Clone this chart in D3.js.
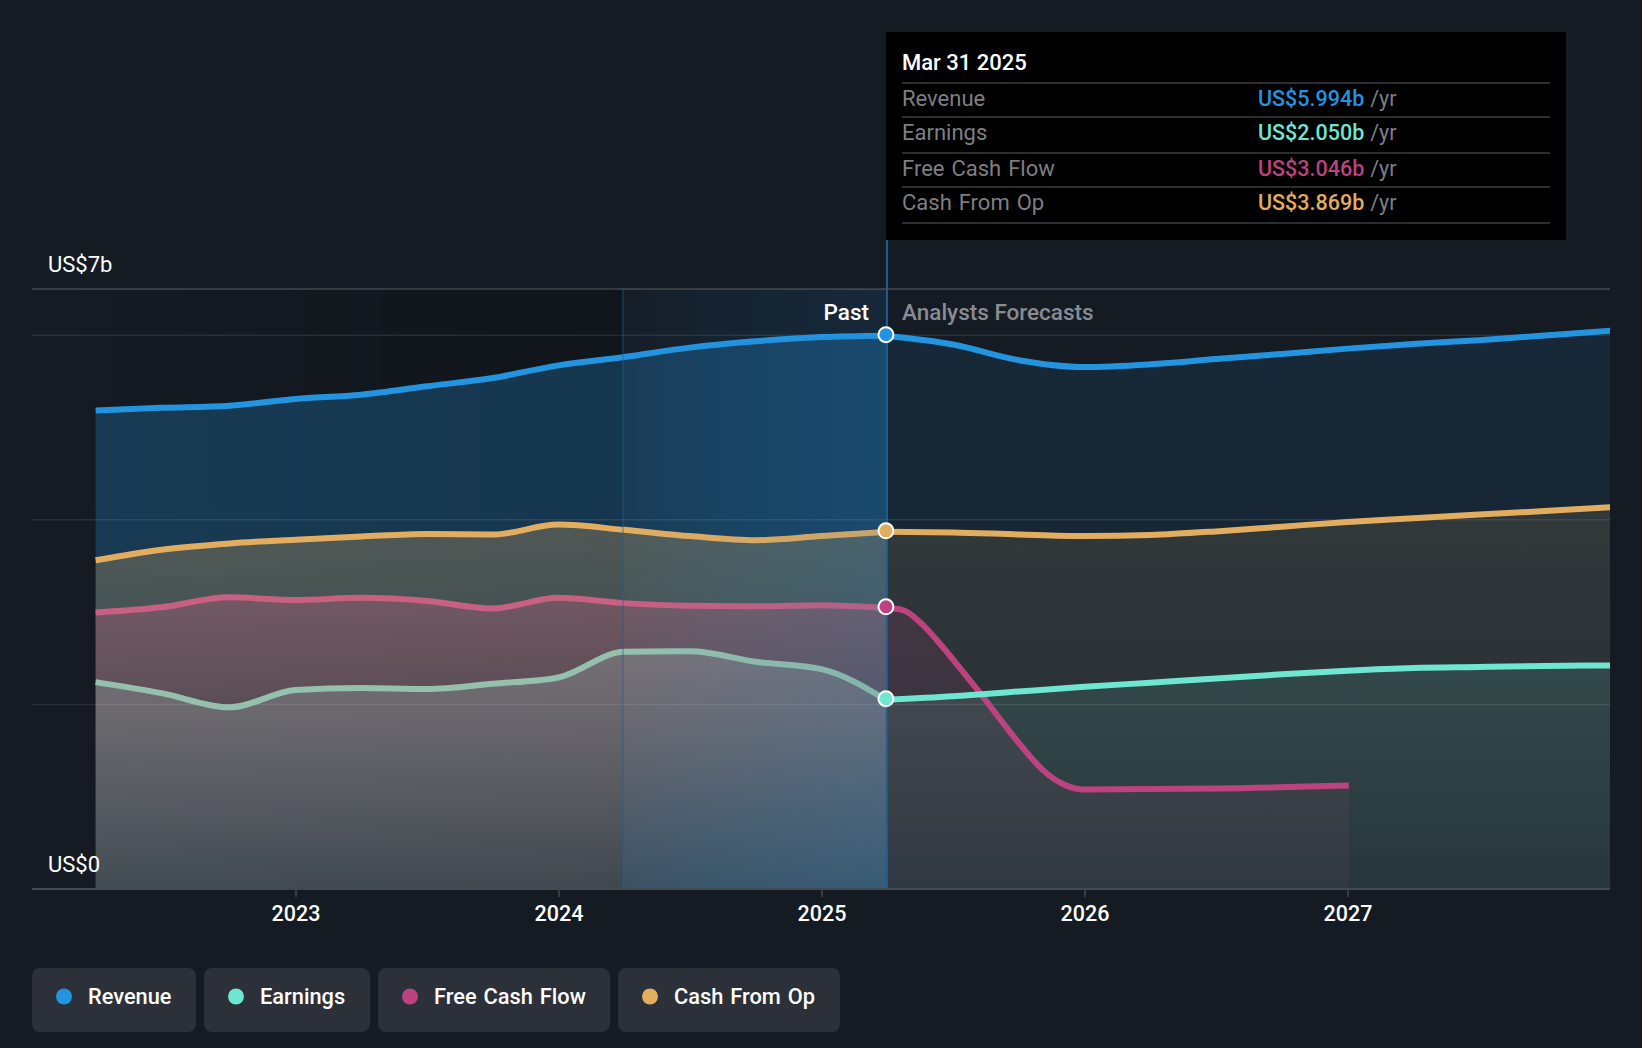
<!DOCTYPE html>
<html><head><meta charset="utf-8">
<script src="https://cdn.jsdelivr.net/npm/d3@7/dist/d3.min.js"></script>
<style>
html,body{margin:0;padding:0;background:#151b23;}
svg{display:block;font-family:Roboto,sans-serif;}
</style></head><body>
<svg id="c" width="1642" height="1048"></svg>
<script>
// ---- data (US$ billions, x in decimal years) ----
const names = ["Revenue","Earnings","Free Cash Flow","Cash From Op"];
const colors = ["#2394e0","#6fe6d0","#bc437f","#e3ad5f"];
const pastLineColors = ["#2394e0","#95c0ae","#c76083","#e3ad5f"];
const tipValues = ["US$5.994b","US$2.050b","US$3.046b","US$3.869b"];
const tipDate = "Mar 31 2025";
const yearTicks = [2023,2024,2025,2026,2027];

const pastYears = [2022.24,2022.49,2022.75,2023,2023.25,2023.5,2023.75,2024,2024.25,2024.5,2024.75,2025,2025.245];
const revenuePast = [5.185,5.213,5.236,5.309,5.355,5.446,5.536,5.673,5.763,5.865,5.933,5.979,5.994];
const earningsPast = [2.241,2.122,1.968,2.156,2.178,2.167,2.224,2.292,2.570,2.575,2.462,2.382,2.050];
const fcfPast = [2.995,3.052,3.160,3.131,3.154,3.120,3.040,3.154,3.097,3.069,3.063,3.075,3.046];
const cfoPast = [3.562,3.676,3.744,3.784,3.818,3.846,3.840,3.948,3.891,3.823,3.778,3.823,3.869];

const foreYears = [2025.245,2025.5,2025.75,2026,2026.25,2026.5,2026.75,2027,2027.25,2027.5,2027.75,2028];
const revenueFore = [5.994,5.899,5.729,5.655,5.684,5.741,5.797,5.854,5.905,5.945,5.996,6.047];
const earningsFore = [2.050,2.087,2.139,2.190,2.235,2.280,2.326,2.365,2.394,2.405,2.416,2.422];
const cfoFore = [3.869,3.863,3.840,3.823,3.835,3.874,3.925,3.976,4.016,4.056,4.095,4.135];
const fcfForeYears = [2025.245,2025.31,2025.386,2025.46,2025.538,2025.614,2025.69,2025.766,2025.842,2025.918,2025.994,2026.5,2027.005];
const fcfFore = [3.046,3.022,2.859,2.624,2.353,2.083,1.798,1.527,1.288,1.137,1.079,1.088,1.120];

const gridValues = [2,4,6];
const axisTop = 6.5;
const bandStart = 2024.245, splitYear = 2025.245;

// ---- scales ----
const x = d3.scaleLinear().domain([2023,2027]).range([295.5,1347.5]);
const y = d3.scaleLinear().domain([0,axisTop]).range([889,289]);
const yMarker = d3.scaleLinear().domain([0,axisTop]).range([888,288]);
const left = 32, right = 1610;

const svg = d3.select("#c");
svg.append("rect").attr("width",1642).attr("height",1048).attr("fill","#151b23");
const defs = svg.append("defs");

function vGrad(id,color,stops){
  const g = defs.append("linearGradient").attr("id",id).attr("gradientUnits","userSpaceOnUse")
    .attr("x1",0).attr("x2",0).attr("y1",y(axisTop)).attr("y2",y(0));
  stops.forEach(s=>g.append("stop").attr("offset",s[0]).attr("stop-color",color).attr("stop-opacity",s[1]));
}
function hGrad(id,x1,x2,stops){
  const g = defs.append("linearGradient").attr("id",id).attr("gradientUnits","userSpaceOnUse")
    .attr("x1",x1).attr("x2",x2).attr("y1",0).attr("y2",0);
  stops.forEach(s=>g.append("stop").attr("offset",s[0]).attr("stop-color",s[1]).attr("stop-opacity",s[2]));
}
defs.append("clipPath").attr("id","plot").append("rect")
  .attr("x",left).attr("y",y(axisTop)).attr("width",right-left).attr("height",y(0)-y(axisTop));

const blue = "#1a6ba8";
hGrad("shade",left,x(bandStart),[[0,"#000",0],[1,"#000",0.22]]);
hGrad("bandUnder",x(bandStart),x(splitYear)+1,[[0,blue,0.03],[0.35,blue,0.10],[1,blue,0.17]]);
hGrad("bandOver",x(bandStart),x(splitYear)+1,[[0,blue,0],[1,blue,0.14]]);
vGrad("bandDeep",blue,[[0.72,0],[1,0.16]]);

vGrad("pf0","#2394e0",[[0.5,0.26],[1,0.08]]);
vGrad("pf3","#e3ad5f",[[0.4,0.28],[0.65,0.19],[1,0.05]]);
vGrad("pf2","#c86482",[[0.5,0.33],[1,0.07]]);
vGrad("pf1","#c8f8ec",[[0.5,0.18],[1,0.14]]);
vGrad("ff0","#2394e0",[[0,0.11],[1,0.07]]);
vGrad("ff3","#e3ad5f",[[0.4,0.13],[1,0.06]]);
vGrad("ff2","#bc437f",[[0.4,0.15],[0.7,0.12],[1,0.06]]);
vGrad("ff1","#6fe6d0",[[0.6,0.12],[1,0.06]]);

const plot = svg.append("g").attr("clip-path","url(#plot)");

const line = d3.line().x(d=>x(d[0])).y(d=>y(d[1])).curve(d3.curveMonotoneX);
const area = d3.area().x(d=>x(d[0])).y0(y(0)).y1(d=>y(d[1])).curve(d3.curveMonotoneX);

const pastSeries = [revenuePast,earningsPast,fcfPast,cfoPast].map(v=>v.map((d,i)=>[pastYears[i],d]));
const foreSeries = [revenueFore,earningsFore,fcfFore,cfoFore].map((v,k)=>v.map((d,i)=>[k===2?fcfForeYears[i]:foreYears[i],d]));
const order = [0,3,2,1];

defs.append("clipPath").attr("id","underRevenue").append("path").attr("d",area(pastSeries[0]));

const bandRect = (fill)=>plot.append("rect").attr("x",x(bandStart)).attr("y",y(axisTop))
  .attr("width",x(splitYear)+1-x(bandStart)).attr("height",y(0)-y(axisTop)).attr("fill",fill);

// background shading of the past and the highlighted year underneath the areas
plot.append("rect").attr("x",left).attr("y",y(axisTop)).attr("width",x(bandStart)-left)
  .attr("height",y(0)-y(axisTop)).attr("fill","url(#shade)");
bandRect("url(#bandUnder)");

// areas
order.forEach(k=>plot.append("path").attr("d",area(foreSeries[k])).attr("fill",`url(#ff${k})`));
order.forEach(k=>plot.append("path").attr("d",area(pastSeries[k])).attr("fill",`url(#pf${k})`));

// grid
const gridG = svg.append("g");
gridG.selectAll("line.g").data(gridValues).join("line").attr("class","g")
  .attr("x1",left).attr("x2",right).attr("y1",d=>y(d)).attr("y2",d=>y(d))
  .attr("stroke","#ffffff").attr("stroke-opacity",0.09).attr("stroke-width",1.5);
gridG.selectAll("line.e").data([axisTop]).join("line").attr("class","e")
  .attr("x1",left).attr("x2",right).attr("y1",d=>y(d)).attr("y2",d=>y(d))
  .attr("stroke","#ffffff").attr("stroke-opacity",0.2).attr("stroke-width",1.5);

// lines
const plot2 = svg.append("g").attr("clip-path","url(#plot)");
order.forEach(k=>{
  plot2.append("path").attr("d",line(foreSeries[k])).attr("fill","none").attr("stroke",colors[k])
    .attr("stroke-width",6).attr("stroke-linecap","butt");
  plot2.append("path").attr("d",line(pastSeries[k])).attr("fill","none").attr("stroke",pastLineColors[k])
    .attr("stroke-width",6).attr("stroke-linecap","butt");
});

// highlighted year overlays
plot2.append("g").attr("clip-path","url(#underRevenue)").append("rect")
  .attr("x",x(bandStart)).attr("y",y(axisTop)).attr("width",x(splitYear)+1-x(bandStart))
  .attr("height",y(0)-y(axisTop)).attr("fill","url(#bandOver)");
plot2.append("rect").attr("x",x(bandStart)).attr("y",y(axisTop)).attr("width",x(splitYear)+1-x(bandStart))
  .attr("height",y(0)-y(axisTop)).attr("fill","url(#bandDeep)");
plot2.append("line").attr("x1",x(bandStart)).attr("x2",x(bandStart)).attr("y1",y(axisTop)).attr("y2",y(0))
  .attr("stroke","#1f5f8f").attr("stroke-opacity",0.35).attr("stroke-width",2);
svg.append("line").attr("x1",x(splitYear)+1).attr("x2",x(splitYear)+1).attr("y1",240).attr("y2",y(0))
  .attr("stroke","#1f5f8f").attr("stroke-width",2);

// x axis
const ax = svg.append("g").attr("transform",`translate(0,${y(0)})`)
  .call(d3.axisBottom(x).tickValues(yearTicks).tickFormat(d3.format("d")).tickSize(8).tickPadding(9));
ax.select(".domain").remove();
ax.selectAll(".tick line").attr("stroke","#43474f").attr("stroke-width",1.5);
ax.selectAll(".tick text").attr("fill","#fff").attr("font-size",21.5).attr("font-family","Roboto").attr("font-weight",500);
svg.append("line").attr("x1",left).attr("x2",right).attr("y1",y(0)).attr("y2",y(0))
  .attr("stroke","#43474f").attr("stroke-width",2);

// y labels
svg.append("text").attr("x",48).attr("y",y(axisTop)-17).attr("fill","#fff").attr("font-size",22).text("US$7b");
svg.append("text").attr("x",48).attr("y",y(0)-17).attr("fill","#fff").attr("font-size",22).text("US$0");

// past / forecast labels
svg.append("text").attr("x",869).attr("y",319.5).attr("text-anchor","end").attr("fill","#fff")
  .attr("font-size",22.5).attr("font-weight",500).text("Past");
svg.append("text").attr("x",902).attr("y",319.5).attr("fill","#898c92").attr("font-size",22.5).attr("font-weight",500).text("Analysts Forecasts");

// markers
[0,3,2,1].forEach(k=>{
  const p = pastSeries[k][pastSeries[k].length-1];
  svg.append("circle").attr("cx",x(p[0])).attr("cy",yMarker(p[1])).attr("r",7.5)
    .attr("fill",colors[k]).attr("stroke","#fff").attr("stroke-width",2);
});

// tooltip
const tip = svg.append("g");
tip.append("rect").attr("x",886).attr("y",32).attr("width",680).attr("height",208).attr("fill","#000");
tip.append("text").attr("x",902).attr("y",70).attr("fill","#fff").attr("font-size",22).attr("font-weight",500).text(tipDate);
const rowLine = [83,117,153,187,223];
const rowText = [106,140,176,210];
rowLine.forEach(v=>tip.append("line").attr("x1",902).attr("x2",1550).attr("y1",v).attr("y2",v)
  .attr("stroke","#3a3d42").attr("stroke-width",1.5));
names.forEach((n,i)=>{
  tip.append("text").attr("x",902).attr("y",rowText[i]).attr("fill","#7d7f83").attr("font-size",22).attr("word-spacing",1.5).text(n);
  const t = tip.append("text").attr("x",1258).attr("y",rowText[i]).attr("font-size",21.5);
  t.append("tspan").attr("fill",colors[i]).attr("font-weight",500).text(tipValues[i]);
  t.append("tspan").attr("fill","#7d7f83").attr("dx",6).text("/yr");
});

// legend
const legX = [32,204,378,618], legW = [164,166,232,222];
names.forEach((n,i)=>{
  const g = svg.append("g").attr("transform",`translate(${legX[i]},968)`);
  g.append("rect").attr("width",legW[i]).attr("height",64).attr("rx",8).attr("fill","#2c3039");
  g.append("circle").attr("cx",32).attr("cy",28.5).attr("r",8).attr("fill",colors[i]);
  g.append("text").attr("x",56).attr("y",36).attr("fill","#fff").attr("font-size",21.8).attr("font-weight",500).attr("word-spacing",1.5).text(n);
});
</script>
</body></html>
